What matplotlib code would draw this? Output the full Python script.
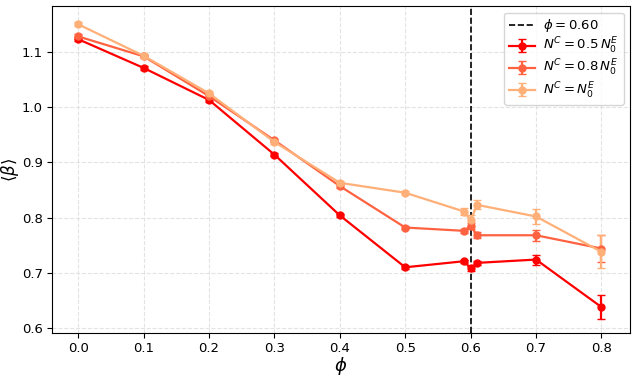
import matplotlib
matplotlib.use("Agg")
import matplotlib.pyplot as plt
import numpy as np

phi = [0.0, 0.1, 0.2, 0.3, 0.4, 0.5, 0.59, 0.6, 0.61, 0.7, 0.8]
beta_05 = [1.123, 1.071, 1.013, 0.914, 0.804, 0.710, 0.721, 0.708, 0.718, 0.724, 0.638]
err_05 = [0.004, 0.003, 0.003, 0.003, 0.003, 0.003, 0.003, 0.005, 0.004, 0.009, 0.021]
beta_08 = [1.128, 1.092, 1.020, 0.940, 0.857, 0.782, 0.776, 0.785, 0.768, 0.768, 0.744]
err_08 = [0.004, 0.003, 0.003, 0.003, 0.003, 0.003, 0.004, 0.006, 0.005, 0.010, 0.025]
beta_10 = [1.150, 1.093, 1.025, 0.937, 0.863, 0.845, 0.811, 0.795, 0.823, 0.802, 0.738]
err_10 = [0.004, 0.003, 0.003, 0.003, 0.003, 0.003, 0.006, 0.010, 0.008, 0.013, 0.030]
phi_c = 0.60

fig = plt.figure(figsize=(6.34, 3.78), dpi=100)
ax = fig.add_axes([0.082, 0.119, 0.912, 0.865])

ax.axvline(phi_c, color='black', ls='--', lw=1.2, label=r'$\phi = 0.60$')
ax.errorbar(phi, beta_05, yerr=err_05, color='#ff0000', marker='o', ms=5, lw=1.6,
            capsize=3, label=r'$N^C = 0.5\,N_0^E$')
ax.errorbar(phi, beta_08, yerr=err_08, color='#ff6240', marker='o', ms=5, lw=1.6,
            capsize=3, label=r'$N^C = 0.8\,N_0^E$')
ax.errorbar(phi, beta_10, yerr=err_10, color='#ffaf78', marker='o', ms=5, lw=1.6,
            capsize=3, label=r'$N^C = N_0^E$')

ax.set_xlim(-0.04, 0.844)
ax.set_ylim(0.591, 1.183)
ax.set_xticks(np.arange(0, 0.81, 0.1))
ax.set_yticks(np.arange(0.6, 1.11, 0.1))
ax.grid(True, ls='--', color='#dddddd', lw=0.8, alpha=0.8)
ax.set_axisbelow(True)
ax.tick_params(labelsize=9.5, pad=3)
ax.set_xlabel(r'$\phi$', fontsize=13)
ax.set_ylabel(r'$\langle\beta\rangle$', fontsize=12)
ax.xaxis.set_label_coords(0.5, -0.068)
ax.yaxis.set_label_coords(-0.053, 0.5)
ax.legend(loc='upper right', fontsize=9.5, labelspacing=0.15, borderpad=0.35,
          handletextpad=0.6)

fig.savefig('out.png', dpi=100)
